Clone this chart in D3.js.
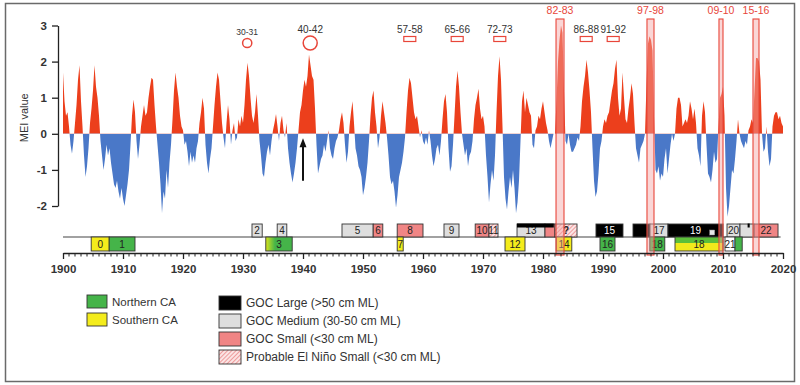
<!DOCTYPE html>
<html>
<head>
<meta charset="utf-8">
<script src="https://cdn.jsdelivr.net/npm/d3@7"></script>
<style>
  html, body { margin: 0; padding: 0; background: #fff; }
  svg { display: block; font-family: "Liberation Sans", Arial, sans-serif; }
</style>
</head>
<body>
<svg id="chart" width="800" height="385"></svg>
<script>
// MEI index, four readings per year starting 1900.0
const MEI_START = 1900;
const MEI_STEP = 0.25;
const MEI = [
  1.7, 0.9, 0.5, 0.6,   0.2, -0.3, -0.55, -0.2,   0.3, 0.8, 1.5, 1.9,   0.9, 0.2, -0.6, -1.2,   -0.9, -0.4, 0.3, 0.7,
  1.2, 1.9, 1.3, 1.0,   0.5, -0.2, -0.6, -1.0,   -0.7, -0.3, -0.6, -0.4,   -0.8, -1.1, -1.4, -1.5,   -1.3, -1.6, -1.8, -1.5,
  -1.8, -2.0, -1.7, -1.4,   -1.0, -0.3, 0.5, 0.95,   0.6, -0.2, -0.7, -0.3,   0.2, 0.5, 0.8, 0.5,   0.6, 1.0, 1.3, 1.55,
  1.5, 0.8, 0.2, -0.3,   -0.8, -1.4, -2.2, -1.6,   -1.8, -1.0, -1.5, -0.8,   -0.3, 0.4, 1.2, 1.7,   1.3, 1.0, 0.5, 0.2,
  0.1, -0.3, -0.2, -0.5,   -0.9, -0.5, -0.8, -0.6,   -0.8, -0.4, -0.2, 0.3,   0.6, 1.0, 0.7, -0.3,   -0.8, -1.1, -0.7, -0.4,
  0.2, 0.8, 1.3, 1.7,   1.5, 0.9, 0.3, -0.1,   -0.4, 0.3, 0.8, 0.4,   -0.3, 0.1, 0.3, -0.2,   -0.1, 0.4, 0.2, 0.5,
  0.3, 0.8, 1.5, 1.97,   1.6, 1.0, 0.5, 0.3,   0.6, 1.1, 0.5, -0.2,   -0.6, -1.1, -1.2, -0.8,   -0.5, -0.3, -0.6, -0.2,
  0.1, 0.3, 0.55, 0.2,   -0.2, 0.3, 0.5, 0.1,   -0.1, 0.3, -0.4, -0.8,   -1.1, -1.35, -1.1, -0.8,   -0.4, 0.1, 0.6, 0.8,
  1.2, 1.5, 1.3, 1.6,   2.2, 1.9, 1.6, 1.5,   0.7, -0.3, -1.1, -0.9,   -0.7, -0.6, -0.3, -0.5,   -0.2, 0.1, -0.4, -0.6,
  -0.7, -0.4, -0.2, -0.1,   0.1, 0.4, 0.6, 0.3,   -0.3, -0.8, -0.5, 0.2,   0.6, 0.9, 0.3, -0.4,   -0.6, -0.9, -1.0, -1.2,
  -1.7, -1.5, -1.2, -0.8,   -0.2, 0.5, 1.0, 1.2,   0.6, 0.2, -0.4, -0.1,   0.5, 0.9, 0.6, 0.3,   -0.1, -0.6, -1.2, -1.4,
  -1.3, -1.6, -2.05, -1.7,   -1.2, -1.0, -0.8, -0.5,   -0.1, 0.6, 1.2, 1.55,   1.4, 1.0, 0.6, 0.4,   0.5, 0.2, -0.1, 0.1,
  -0.2, -0.3, -0.1, -0.3,   0.1, -0.2, -0.6, -0.9,   -0.7, -0.4, -0.3, -0.6,   -0.2, 0.4, 0.9, 1.1,   0.6, -0.4, -1.05, -0.9,
  -0.3, 0.5, 1.3, 1.75,   1.3, 0.6, 0.0, -0.3,   -0.6, -0.4, -0.9, -0.6,   -0.5, -0.2, 0.4, 0.8,   1.0, 1.25, 0.7, 0.4,
  0.5, 0.2, -0.6, -1.2,   -1.9, -1.4, -1.0, -1.3,   -0.6, 0.6, 1.6, 2.15,   1.5, 0.2, -1.2, -1.8,   -2.1, -1.6, -1.2, -1.5,
  -1.0, -1.5, -2.2, -1.9,   -1.3, -0.2, 0.9, 1.2,   0.6, 1.0, 0.8, 0.6,   0.5, -0.3, -0.4, 0.1,   0.2, 0.5, 0.4, 0.7,
  0.9, 0.6, 0.3, 0.1,   -0.2, -0.4, -0.2, 0.0,   0.0, 0.9, 2.0, 2.6,   3.0, 2.8, 1.2, -0.2,   -0.3, 0.0, -0.3, -0.5,
  -0.5, -0.4, -0.3, -0.1,   -0.2, 0.2, 0.9, 1.3,   1.6, 2.05, 1.7, 1.2,   0.6, -0.4, -1.3, -1.75,   -1.6, -1.1, -0.4, -0.2,
  0.2, 0.4, 0.3, 0.5,   0.6, 0.9, 1.2, 1.4,   1.8, 2.05, 1.0, 0.5,   0.7, 1.7, 1.0, 0.4,   0.3, 0.7, 1.0, 1.4,
  1.1, 0.3, -0.4, -0.6,   -0.8, -0.4, -0.3, -0.2,   0.0, 1.4, 2.5, 2.7,   2.6, 2.3, 0.5, -1.0,   -1.1, -0.9, -1.3, -1.1,
  -1.2, -0.7, -0.4, -1.1,   -0.7, -0.3, 0.0, -0.2,   0.0, 0.7, 1.0, 1.0,   0.8, 0.2, 0.3, 0.4,   0.3, 0.5, 0.9, 0.7,
  0.4, 0.7, 0.3, -0.4,   -0.6, -0.9, 0.5, 0.9,   0.6, -0.3, -1.1, -1.2,   -1.35, -1.0, -0.5, -0.8,   -0.7, 0.2, 1.0, 1.1,
  1.3, 0.5, -1.5, -2.3,   -2.0, -1.5, -1.0, -1.1,   -0.7, -0.2, 0.4, 0.0,   -0.2, -0.3, -0.4, -0.2,   -0.3, 0.1, 0.2, 0.4,
  0.3, 1.2, 2.1, 2.1,   2.0, 1.5, 0.0, -0.5,   -0.4, 0.2, -0.5, -0.9,   -0.7, 0.2, 0.5, 0.6,   0.6, 0.4, 0.5, 0.3,
  0.2
];

const X_TICKS = [1900, 1910, 1920, 1930, 1940, 1950, 1960, 1970, 1980, 1990, 2000, 2010, 2020];
const Y_TICKS = [-2, -1, 0, 1, 2, 3];

// weaker events: circles and small boxes above the peaks
const CIRCLE_EVENTS = [
  { label: "30-31", year: 1930.7, big: false },
  { label: "40-42", year: 1941.2, big: true }
];
const BOX_EVENTS = [
  { label: "57-58", year: 1957.8 },
  { label: "65-66", year: 1965.7 },
  { label: "72-73", year: 1972.8 },
  { label: "86-88", year: 1987.2 },
  { label: "91-92", year: 1991.7 }
];
// strong events: full-height bands
const BAND_EVENTS = [
  { label: "82-83", from: 1982.17, to: 1983.5 },
  { label: "97-98", from: 1997.33, to: 1998.5 },
  { label: "09-10", from: 2009.33, to: 2010.0 },
  { label: "15-16", from: 2015.0, to: 2016.0 }
];
const ARROW_YEAR = 1940;

// Gulf of California squid records
const GOC_BOXES = [
  { n: "2", from: 1931.5, to: 1933.2, kind: "medium" },
  { n: "4", from: 1935.7, to: 1937.3, kind: "medium" },
  { n: "5", from: 1946.5, to: 1951.7, kind: "medium" },
  { n: "6", from: 1951.7, to: 1953.3, kind: "small" },
  { n: "8", from: 1955.7, to: 1960.0, kind: "small" },
  { n: "9", from: 1963.5, to: 1966.0, kind: "medium" },
  { n: "10", from: 1968.7, to: 1971.0, kind: "small" },
  { n: "11", from: 1971.0, to: 1972.5, kind: "probable" },
  { n: "13", from: 1975.67, to: 1980.33, kind: "medium" },
  { n: "", from: 1980.33, to: 1982.0, kind: "small" },
  { n: "?", from: 1982.0, to: 1985.67, kind: "probable" },
  { n: "15", from: 1988.83, to: 1993.33, kind: "large" },
  { n: "", from: 1995.0, to: 1997.83, kind: "large" },
  { n: "17", from: 1997.83, to: 2000.83, kind: "medium" },
  { n: "19", from: 2000.83, to: 2010.0, kind: "large" },
  { n: "20", from: 2010.67, to: 2012.83, kind: "medium" },
  { n: "", from: 2012.83, to: 2015.17, kind: "medium" },
  { n: "22", from: 2015.17, to: 2019.17, kind: "small" }
];
const GOC_STRIPS = [
  { from: 1975.67, to: 1981.8 },
  { from: 2014.1, to: 2014.45 }
];
const GOC_DOTS = [2008.2];

// California records
const CA_BOXES = [
  { n: "0", from: 1904.7, to: 1907.7, kind: "south" },
  { n: "1", from: 1907.7, to: 1912.0, kind: "north" },
  { n: "3", from: 1933.8, to: 1938.2, kind: "mixed" },
  { n: "7", from: 1955.7, to: 1956.7, kind: "south" },
  { n: "12", from: 1973.67, to: 1977.0, kind: "south" },
  { n: "14", from: 1982.2, to: 1984.8, kind: "south" },
  { n: "16", from: 1989.5, to: 1992.0, kind: "north" },
  { n: "18", from: 1997.8, to: 2000.3, kind: "north" },
  { n: "18", from: 2002.0, to: 2010.0, kind: "split" },
  { n: "21", from: 2010.33, to: 2012.0, kind: "none" },
  { n: "", from: 2012.0, to: 2013.2, kind: "north" }
];

const LEGEND_CA = [
  { kind: "north", label: "Northern CA" },
  { kind: "south", label: "Southern CA" }
];
const LEGEND_GOC = [
  { kind: "large", label: "GOC Large (>50 cm ML)" },
  { kind: "medium", label: "GOC Medium (30-50 cm ML)" },
  { kind: "small", label: "GOC Small (<30 cm ML)" },
  { kind: "probable", label: "Probable El Niño Small (<30 cm ML)" }
];

const RED = "#ec3f1c", BLUE = "#4a78c8", EVT = "#e8463a";
const FILL = {
  large: "#000", medium: "#dedede", small: "#f08585", probable: "url(#hatch)",
  north: "#45b449", south: "#f4ec1c", mixed: "url(#ca-mix)", split: "url(#ca-split)", none: "#fff"
};

const svg = d3.select("#chart");
const defs = svg.append("defs");

const hatch = defs.append("pattern").attr("id", "hatch")
  .attr("width", 3).attr("height", 3)
  .attr("patternUnits", "userSpaceOnUse")
  .attr("patternTransform", "rotate(45)");
hatch.append("rect").attr("width", 3).attr("height", 3).attr("fill", "#fbe4e4");
hatch.append("line").attr("x1", 0).attr("y1", 0).attr("x2", 0).attr("y2", 3)
  .attr("stroke", "#e66a6a").attr("stroke-width", 1.2);

const mix = defs.append("linearGradient").attr("id", "ca-mix");
mix.append("stop").attr("offset", "0%").attr("stop-color", "#d8e41e");
mix.append("stop").attr("offset", "35%").attr("stop-color", "#45b449");
const split = defs.append("linearGradient").attr("id", "ca-split")
  .attr("x1", "0%").attr("y1", "0%").attr("x2", "0%").attr("y2", "100%");
split.append("stop").attr("offset", "0%").attr("stop-color", "#5cbf3a");
split.append("stop").attr("offset", "40%").attr("stop-color", "#5cbf3a");
split.append("stop").attr("offset", "40%").attr("stop-color", "#f1ea1c");
split.append("stop").attr("offset", "100%").attr("stop-color", "#f1ea1c");

// frame
svg.append("rect").attr("x", 5.5).attr("y", 3.5).attr("width", 789).attr("height", 378)
  .attr("fill", "none").attr("stroke", "#6a6a6a").attr("stroke-width", 1.5);

const x = d3.scaleLinear().domain([1900, 2020]).range([63, 783]);
const y = d3.scaleLinear().domain([-2, 3]).range([206, 25.5]);

const series = MEI.map((v, i) => ({ t: MEI_START + i * MEI_STEP, v }));
const area = d3.area().x(d => x(d.t)).y0(y(0)).y1(d => y(d.v));

defs.append("clipPath").attr("id", "above").append("rect")
  .attr("x", 0).attr("y", 0).attr("width", 800).attr("height", y(0));
defs.append("clipPath").attr("id", "below").append("rect")
  .attr("x", 0).attr("y", y(0)).attr("width", 800).attr("height", 385);

svg.append("path").datum(series).attr("d", area).attr("fill", RED).attr("clip-path", "url(#above)");
svg.append("path").datum(series).attr("d", area).attr("fill", BLUE).attr("clip-path", "url(#below)");

// y axis
const yAxis = svg.append("g").attr("transform", `translate(${x(1900) - 5},0)`)
  .call(d3.axisLeft(y).tickValues(Y_TICKS).tickFormat(d => String(d)).tickSize(6).tickSizeOuter(0).tickPadding(5));
yAxis.select(".domain").attr("stroke", "#222").attr("stroke-width", 1.3);
yAxis.selectAll(".tick line").attr("stroke", "#222").attr("stroke-width", 1.3);
yAxis.selectAll("text").attr("font-size", 11.5).attr("font-weight", "bold").attr("fill", "#333")
  .attr("font-family", "'Liberation Sans', Arial, sans-serif");

svg.append("text").attr("transform", `translate(28,${y(0.5) + 2}) rotate(-90)`)
  .attr("text-anchor", "middle").attr("font-size", 11).attr("fill", "#333").text("MEI value");

// arrow
svg.append("line").attr("x1", x(ARROW_YEAR)).attr("x2", x(ARROW_YEAR))
  .attr("y1", y(-1.3)).attr("y2", y(-0.3)).attr("stroke", "#111").attr("stroke-width", 2);
svg.append("path")
  .attr("d", `M${x(ARROW_YEAR)},${y(-0.12)} l-3.5,9 l7,0 z`).attr("fill", "#111");

// weak-event markers
svg.selectAll(".cev").data(CIRCLE_EVENTS).join("circle")
  .attr("cx", d => x(d.year)).attr("cy", 43).attr("r", d => d.big ? 7 : 4.6)
  .attr("fill", "none").attr("stroke", EVT).attr("stroke-width", 1.5);
svg.selectAll(".cevt").data(CIRCLE_EVENTS).join("text")
  .attr("x", d => x(d.year)).attr("y", d => d.big ? 33 : 35)
  .attr("text-anchor", "middle").attr("font-size", d => d.big ? 10 : 8.5).attr("fill", "#333")
  .text(d => d.label);

svg.selectAll(".bev").data(BOX_EVENTS).join("rect")
  .attr("x", d => x(d.year) - 6).attr("y", 36.5).attr("width", 12).attr("height", 5)
  .attr("fill", "#fff").attr("stroke", EVT).attr("stroke-width", 1.2);
svg.selectAll(".bevt").data(BOX_EVENTS).join("text")
  .attr("x", d => x(d.year)).attr("y", 33)
  .attr("text-anchor", "middle").attr("font-size", 10).attr("fill", "#333")
  .text(d => d.label);

// timeline rows
const ROW_Y = 237;
svg.append("line").attr("x1", x(1900)).attr("x2", x(2019.6)).attr("y1", ROW_Y).attr("y2", ROW_Y)
  .attr("stroke", "#444").attr("stroke-width", 1.2);

function drawBoxes(data, y0, h) {
  const g = svg.append("g");
  g.selectAll("rect").data(data).join("rect")
    .attr("x", d => x(d.from)).attr("y", y0)
    .attr("width", d => x(d.to) - x(d.from)).attr("height", h)
    .attr("fill", d => FILL[d.kind]).attr("stroke", "#333").attr("stroke-width", 0.9);
  g.selectAll("text").data(data.filter(d => d.n)).join("text")
    .attr("x", d => (x(d.from) + x(d.to)) / 2).attr("y", y0 + h / 2 + 3.5)
    .attr("text-anchor", "middle").attr("font-size", 10)
    .attr("font-weight", d => d.n === "?" ? "bold" : "normal")
    .attr("fill", d => d.kind === "large" ? "#fff" : "#222")
    .text(d => d.n);
}
drawBoxes(GOC_BOXES, 224, ROW_Y - 224);
svg.selectAll(".strip").data(GOC_STRIPS).join("rect")
  .attr("x", d => x(d.from)).attr("y", 223.5)
  .attr("width", d => x(d.to) - x(d.from)).attr("height", 4).attr("fill", "#000");
svg.selectAll(".gdot").data(GOC_DOTS).join("rect")
  .attr("x", d => x(d) - 2.5).attr("y", 230).attr("width", 5).attr("height", 5)
  .attr("fill", "#e6e6e6").attr("stroke", "#888").attr("stroke-width", 0.5);
drawBoxes(CA_BOXES, ROW_Y, 14);

// strong-event bands
svg.selectAll(".band").data(BAND_EVENTS).join("rect")
  .attr("x", d => x(d.from)).attr("y", 19)
  .attr("width", d => x(d.to) - x(d.from)).attr("height", 236)
  .attr("fill", "#f5a3a3").attr("fill-opacity", 0.45)
  .attr("stroke", EVT).attr("stroke-width", 1.1);
svg.selectAll(".bandt").data(BAND_EVENTS).join("text")
  .attr("x", d => (x(d.from) + x(d.to)) / 2).attr("y", 14)
  .attr("text-anchor", "middle").attr("font-size", 10.5).attr("fill", EVT)
  .text(d => d.label);

// x axis
const xAxis = svg.append("g").attr("transform", "translate(0,253)")
  .call(d3.axisBottom(x).tickValues(X_TICKS).tickFormat(d3.format("d")).tickSize(6).tickSizeOuter(0).tickPadding(6));
xAxis.select(".domain").attr("stroke", "#222").attr("stroke-width", 1.3);
xAxis.selectAll(".tick line").attr("stroke", "#222").attr("stroke-width", 1.3);
xAxis.selectAll("text").attr("font-size", 11.5).attr("font-weight", "bold").attr("fill", "#333")
  .attr("font-family", "'Liberation Sans', Arial, sans-serif");
const minor = d3.scaleLinear().domain([1900, 2020]).ticks(120).filter(t => t % 10 !== 0);
svg.append("g").selectAll("line").data(minor).join("line")
  .attr("x1", d => x(d)).attr("x2", d => x(d)).attr("y1", 253).attr("y2", 256.5)
  .attr("stroke", "#222").attr("stroke-width", 1);

// legends
function drawLegend(data, lx, ly, dy, sw, sh, fs) {
  const g = svg.append("g");
  const row = g.selectAll("g").data(data).join("g")
    .attr("transform", (d, i) => `translate(${lx},${ly + i * dy})`);
  row.append("rect").attr("width", sw).attr("height", sh)
    .attr("fill", d => FILL[d.kind]).attr("stroke", "#333").attr("stroke-width", 0.9);
  row.append("text").attr("x", sw + 5).attr("y", sh / 2 + 4).attr("font-size", fs).attr("fill", "#333")
    .text(d => d.label);
}
drawLegend(LEGEND_CA, 87, 295, 18, 20, 13, 11.5);
drawLegend(LEGEND_GOC, 219, 296, 18, 22, 14, 12);
</script>
</body>
</html>
